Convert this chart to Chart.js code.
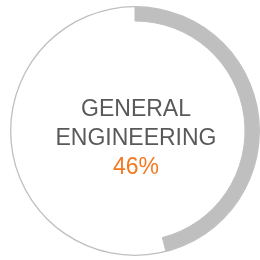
<!DOCTYPE html>
<html>
<head>
<meta charset="utf-8">
<script src="https://cdn.jsdelivr.net/npm/chart.js@4"></script>
<style>
    html, body { margin: 0; padding: 0; background: #fff; }
    #wrap { width: 260px; height: 260px; }
</style>
</head>
<body>
<div id="wrap"><canvas id="gauge"></canvas></div>
<script>
// Chart data
const labels = ['General Engineering', 'Other'];
const values = [46, 54];
const titleLines = ['GENERAL', 'ENGINEERING'];

// Colors
const arcColor = '#bfbfbf';
const ringColor = '#bfbfbf';
const textColor = '#595959';
const accentColor = '#f47920';

// Draw the centre label
const centerText = {
    id: 'centerText',
    afterDraw(chart) {
        const arc = chart.getDatasetMeta(0).data[0];
        if (!arc) return;
        const ctx = chart.ctx;
        const cx = arc.x + 1;
        const cy = arc.y;
        ctx.save();
        ctx.textAlign = 'center';
        ctx.textBaseline = 'alphabetic';
        ctx.font = '23px "Liberation Sans", Arial, sans-serif';
        ctx.fillStyle = textColor;
        ctx.fillText(titleLines[0], cx, cy - 15);
        ctx.fillText(titleLines[1], cx, cy + 14);
        ctx.fillStyle = accentColor;
        ctx.fillText(values[0] + '%', cx, cy + 43);
        ctx.restore();
    }
};

function initChart() {
    const ctx = document.getElementById('gauge').getContext('2d');
    new Chart(ctx, {
        type: 'doughnut',
        data: {
            labels: labels,
            datasets: [
                {
                    // thin outline ring
                    data: [values[0] + values[1]],
                    backgroundColor: [ringColor],
                    borderWidth: 0,
                    weight: 1.3
                },
                {
                    data: values,
                    backgroundColor: [arcColor, 'rgba(0,0,0,0)'],
                    borderColor: [arcColor, 'rgba(0,0,0,0)'],
                    borderWidth: [1, 0],
                    weight: 13.7
                }
            ]
        },
        options: {
            responsive: true,
            maintainAspectRatio: false,
            animation: false,
            cutout: '88%',
            layout: { padding: { left: 10, right: 0, top: 6, bottom: 4 } },
            plugins: {
                legend: { display: false },
                tooltip: { enabled: false }
            }
        },
        plugins: [centerText]
    });
}

document.addEventListener('DOMContentLoaded', initChart);
</script>
</body>
</html>
